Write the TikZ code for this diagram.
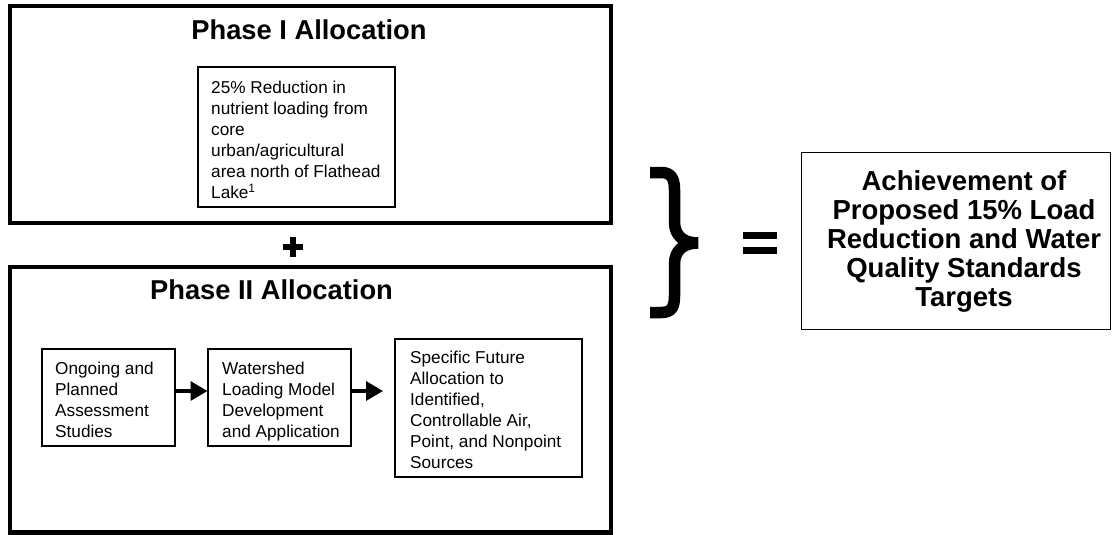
\documentclass[tikz,border=0pt]{standalone}
\usepackage{fontspec}
\setmainfont{Liberation Sans}
\usetikzlibrary{arrows.meta}
\newcommand\mybodytext[1]{\parbox[t]{300pt}{\raggedright\fontsize{17.2}{21}\selectfont #1}}
\begin{document}
\begin{tikzpicture}[x=1pt,y=-1pt,
  outerbox/.style={draw, line width=4.5pt, inner sep=0pt, outer sep=0pt, anchor=north west},
  innerbox/.style={draw, line width=2pt, inner sep=0pt, outer sep=0pt, anchor=north west},
  resbox/.style={draw, line width=1.5pt, inner sep=0pt, outer sep=0pt, anchor=north west},
  titletxt/.style={inner sep=0pt, anchor=base, font=\fontsize{27.3}{30}\selectfont\bfseries},
  bodytxt/.style={inner sep=0pt, anchor=base west},
  arr/.style={line width=3.3pt, -{Triangle[length=17pt,width=19pt]}},
  symbstroke/.style={line width=6.5pt},
  bracestroke/.style={line width=11.5pt, line join=bevel}
]
\useasboundingbox (0,0) rectangle (1112,535);
\fill[white] (0,0) rectangle (1112,535);

% boxes
\node[outerbox, minimum width=601pt, minimum height=217pt] (p1) at (10,6) {};
\node[outerbox, minimum width=601pt, minimum height=265.5pt] (p2) at (10,267) {};
\node[innerbox, minimum width=197pt, minimum height=139pt] (r1) at (197.5,67.5) {};
\node[innerbox, minimum width=133.5pt, minimum height=97pt] (a) at (41.5,349) {};
\node[innerbox, minimum width=143pt, minimum height=97pt] (b) at (207.5,349) {};
\node[innerbox, minimum width=187pt, minimum height=138pt] (c) at (394.5,339) {};
\node[resbox, minimum width=309pt, minimum height=177pt] (res) at (801.5,152.5) {};

% titles
\node[titletxt] (t1) at (309,39.5) {Phase I Allocation};
\node[titletxt] (t2) at (271.5,299) {Phase II Allocation};

% texts
\node[bodytxt] (r1t) at (211,93.3) {\mybodytext{25\% Reduction in\\nutrient loading from\\core\\urban/agricultural\\area north of Flathead\\Lake\textsuperscript{1}}};
\node[bodytxt] (at) at (55,374) {\mybodytext{Ongoing and\\Planned\\Assessment\\Studies}};
\node[bodytxt] (bt) at (222,374) {\mybodytext{Watershed\\Loading Model\\Development\\and Application}};
\node[bodytxt] (ct) at (410,363) {\mybodytext{Specific Future\\Allocation to\\Identified,\\Controllable Air,\\Point, and Nonpoint\\Sources}};
\node[inner sep=0pt, anchor=base] (rest) at (964,190) {\parbox[t]{330pt}{\centering\fontsize{27.5}{29.2}\selectfont\bfseries Achievement of\\Proposed 15\% Load\\Reduction and Water\\Quality Standards\\Targets}};

% arrows
\coordinate (arry) at (0,391);
\draw[arr] (a.east |- arry) -- (b.west |- arry);
\draw[arr, shorten >=11.5pt] (b.east |- arry) -- (c.west |- arry);

% plus
\draw[symbstroke] (283,247) -- (303,247) (293,237) -- (293,257);

% brace
\draw[bracestroke] (650,172.5) -- (661,172.5) .. controls (671,172.5) and (674.5,178) .. (674.5,190) -- (674.5,222) .. controls (674.5,236) and (684,243) .. (698,243) .. controls (684,243) and (674.5,250) .. (674.5,264) -- (674.5,296) .. controls (674.5,308) and (671,312.5) .. (661,312.5) -- (650,312.5);

% equals
\fill (743,232) rectangle (777,239);
\fill (743,246.5) rectangle (777,253.5);
\end{tikzpicture}
\end{document}
